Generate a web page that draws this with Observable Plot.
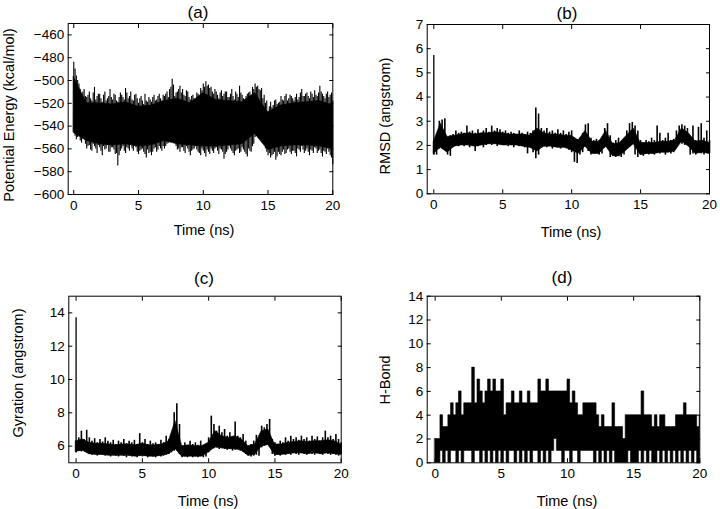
<!DOCTYPE html>
<html><head><meta charset="utf-8">
<script src="https://cdn.jsdelivr.net/npm/d3@7"></script>
<script src="https://cdn.jsdelivr.net/npm/@observablehq/plot@0.6"></script>
<style>
body{margin:0;background:#fff;font-family:"Liberation Sans",Arial,sans-serif;}
#wrap{position:relative;width:720px;height:509px;overflow:hidden;background:#fff;}
.panel{position:absolute;}
.lbl{position:absolute;transform:translate(-50%,-50%);white-space:nowrap;color:#000;line-height:1;}
.title{font-size:17px;}
.axl{font-size:14.5px;}
.ylbl{transform:translate(-50%,-50%) rotate(-90deg);}
</style></head><body><div id="wrap"></div>
<script>
// ---------- data ----------
const time = d3.range(101).map(i => +(i * 0.2).toFixed(1));        // 0.0 .. 20.0 ns
const midTime = d3.range(100).map(i => +(0.1 + i * 0.2).toFixed(1)); // 0.1 .. 19.9 ns
const halfTime = d3.range(41).map(i => i * 0.5);                   // 0 .. 20 ns
const coarseTime = d3.range(21);                                   // 0 .. 20 ns
const xTicks = [0, 5, 10, 15, 20];

// (a) Potential energy (kcal/mol): spike tips every 0.1 ns and the dense body every 1 ns
const energyHigh = [
-484,-496,-503,-512,-508, -515,-510,-518,-506,-514, -512,-519,-510,-516,-508,
-517,-513,-519,-511,-515, -507,-516,-510,-518,-512, -520,-514,-521,-518,-515,
-519,-513,-517,-512,-518, -514,-510,-508,-499,-514, -510,-505,-508,-514,-510,
-517,-513,-518,-512,-507, -503,-501,-504,-506,-512, -510,-516,-509,-512,-510,
-515,-508,-517,-512,-505, -513,-517,-512,-510,-506, -503,-505,-509,-516,-520,
-527,-519,-522,-517,-520, -514,-518,-512,-516,-514, -518,-512,-515,-508,-514,
-511,-516,-512,-509,-514, -505,-512,-516,-510,-513, -518];
const energyLow = [
-545,-552,-548,-555,-552, -560,-557,-562,-558,-564, -559,-566,-561,-557,-563,
-559,-565,-575,-562,-558, -564,-560,-556,-562,-559, -565,-561,-563,-568,-564,
-566,-560,-563,-558,-562, -560,-556,-553,-550,-555, -561,-563,-559,-564,-560,
-566,-561,-558,-563,-566, -562,-567,-563,-560,-564, -559,-565,-561,-569,-563,
-558,-562,-566,-561,-564, -559,-563,-567,-562,-558, -550,-547,-546,-552,-560,
-566,-568,-565,-570,-563, -566,-561,-564,-560,-565, -562,-567,-561,-558,-564,
-560,-566,-562,-559,-564, -561,-567,-563,-560,-566, -574];
const energyHighMid = [
-490,-500,-508,-510,-514, -513,-516,-511,-517,-512, -516,-513,-518,-514,-515,
-512,-518,-515,-513,-517, -511,-514,-517,-513,-516, -516,-518,-512,-519,-517,
-515,-518,-514,-516,-513, -512,-515,-506,-504,-511, -508,-511,-513,-509,-515,
-514,-516,-511,-514,-509, -506,-505,-507,-510,-508, -513,-511,-514,-510,-515,
-512,-514,-510,-515,-511, -516,-514,-511,-515,-508, -506,-508,-507,-513,-518,
-523,-524,-518,-521,-519, -517,-514,-518,-513,-516, -515,-517,-511,-514,-512,
-514,-510,-515,-513,-511, -510,-514,-512,-515,-511];
const energyLowMid = [
-549,-550,-553,-551,-556, -558,-561,-556,-560,-557, -562,-558,-560,-563,-559,
-561,-564,-566,-560,-562, -559,-562,-560,-558,-563, -562,-560,-565,-561,-563,
-563,-559,-561,-560,-558, -558,-555,-552,-553,-558, -560,-559,-562,-558,-563,
-562,-560,-561,-564,-560, -564,-561,-565,-562,-560, -562,-560,-563,-565,-561,
-560,-564,-562,-560,-563, -561,-565,-560,-563,-556, -549,-548,-549,-555,-563,
-564,-566,-563,-567,-565, -563,-565,-561,-563,-562, -564,-560,-563,-561,-562,
-563,-561,-564,-560,-562, -564,-562,-565,-563,-568];
const energyBodyHigh = [-497,-520,-520,-521,-519,-523,-522,-518,-516,-520,-511,-517,-518,-519,-511,-528,-522,-520,-519,-518,-522];
const energyBodyLow  = [-546,-553,-556,-557,-556,-558,-557,-553,-556,-557,-558,-558,-557,-556,-547,-561,-558,-557,-557,-558,-560];
const energyTicks = [-600,-580,-560,-540,-520,-500,-480,-460];

// (b) RMSD (angstrom): spike tips every 0.2 ns, dense body every 0.5 ns
const rmsdHigh = [
2.2,2.2,3.0,3.05,3.1, 2.3,2.4,2.45,2.6,2.5, 2.55,2.5,2.8,2.55,2.6,
2.5,2.65,2.5,2.6,2.7, 2.55,2.8,2.6,2.7,2.65, 2.55,2.6,2.5,2.55,2.5,
2.45,2.6,2.5,2.45,2.55, 2.5,2.6,3.55,3.3,2.7, 2.6,2.7,2.55,2.6,2.5,
2.65,2.5,2.6,2.45,2.55, 2.6,2.3,2.25,2.3,2.5, 2.85,2.9,2.3,2.2,2.25,
2.2,2.3,2.7,2.9,2.4, 2.1,2.2,2.3,2.1,2.2, 2.6,2.9,2.95,2.8,2.6,
2.2,2.1,2.2,2.15,2.3, 2.2,2.8,2.5,2.2,2.3, 2.5,2.2,2.25,2.6,2.8,
2.85,2.8,2.7,2.3,2.8, 2.2,2.75,2.9,2.3,2.6, 2.2];
const rmsdLow = [
1.6,1.6,1.85,1.9,1.8, 1.6,1.55,1.9,2.0,1.95, 2.0,1.95,2.0,1.9,2.0,
1.75,1.95,2.0,1.9,2.0, 2.05,2.0,2.05,1.95,2.05, 2.0,2.05,1.95,2.0,1.9,
2.0,1.95,2.0,1.9,1.65, 1.9,1.7,1.45,1.6,1.9, 1.95,1.9,2.0,1.85,1.95,
1.9,1.85,1.95,1.9,1.8, 1.7,1.3,1.25,1.6,1.7, 2.0,1.75,1.6,1.65,1.7,
1.6,1.65,1.9,1.95,1.5, 1.55,1.5,1.55,1.5,1.6, 1.95,2.0,2.05,1.6,1.5,
1.6,1.55,1.65,1.6,1.65, 1.6,1.7,1.65,1.7,1.6, 1.7,1.65,1.7,2.1,2.2,
2.05,2.0,2.15,1.6,1.65, 1.6,1.7,1.65,1.6,1.7, 1.65];
const rmsdBodyHigh = [2.15,2.9,2.35,2.4,2.45,2.5,2.45,2.5,2.5,2.55,2.5,2.45,2.45,2.45,2.4,2.7,2.5,2.45,2.45,2.4,2.4,2.2,2.6,2.15,2.15,2.6,2.05,2.1,2.4,2.7,2.1,2.1,2.1,2.15,2.15,2.2,2.7,2.5,2.15,2.2,2.1];
const rmsdBodyLow  = [1.65,1.9,1.7,1.95,2.0,2.0,1.95,2.0,2.05,2.05,2.0,2.0,2.0,1.95,1.9,1.75,1.95,1.95,1.9,1.9,1.8,1.65,1.95,1.65,1.65,1.95,1.55,1.55,1.8,2.05,1.6,1.65,1.65,1.7,1.7,1.75,2.15,1.95,1.65,1.7,1.65];
const rmsdSpikeTime = [0.0], rmsdSpikeLow = [1.6], rmsdSpikeHigh = [5.72];
const rmsdTicks = [0,1,2,3,4,5,6,7];

// (c) Radius of gyration (angstrom): spike tips every 0.2 ns, dense body every 0.5 ns
const gyrHigh = [
6.3,6.5,6.9,6.4,6.95, 6.5,6.3,6.45,6.2,6.4, 6.25,6.5,6.3,6.2,6.35,
6.1,6.3,6.2,6.4,6.15, 6.3,6.2,6.35,6.1,6.75, 6.2,6.4,6.1,6.3,6.15,
6.2,6.1,6.35,6.2,6.6, 6.4,6.7,8.0,8.55,7.3, 6.0,6.2,6.0,6.3,6.1,
6.2,6.05,6.3,6.0,6.1, 6.5,7.8,7.3,6.9,7.2, 6.8,7.0,6.6,6.8,6.4,
7.45,6.6,6.5,6.7,6.3, 6.0,6.1,6.3,6.65,6.0, 7.2,7.1,7.3,7.6,6.4,
6.2,6.1,6.3,6.2,6.5, 6.3,6.6,6.4,6.5,6.35, 6.6,6.4,6.5,6.3,6.6,
6.4,6.55,6.3,6.5,6.9, 6.5,6.6,6.4,6.7,6.4, 6.2];
const gyrLow = [
5.6,5.7,5.65,5.75,5.7, 5.5,5.45,5.5,5.4,5.5, 5.45,5.4,5.5,5.35,5.45,
5.4,5.35,5.45,5.4,5.3, 5.4,5.35,5.45,5.3,5.4, 5.35,5.4,5.3,5.4,5.35,
5.3,5.4,5.35,5.4,5.45, 5.5,5.6,5.7,5.8,5.5, 5.3,5.35,5.3,5.4,5.3,
5.35,5.3,5.4,5.3,5.35, 5.6,5.9,5.85,5.9,5.8, 5.85,5.8,5.75,5.8,5.7,
5.75,5.8,5.7,5.65,5.5, 5.4,5.35,5.4,5.45,5.4, 5.9,6.0,6.05,5.95,5.5,
5.4,5.45,5.4,5.5,5.45, 5.5,5.45,5.55,5.5,5.45, 5.55,5.5,5.45,5.55,5.5,
5.45,5.55,5.5,5.45,5.55, 5.5,5.45,5.5,5.45,5.4, 5.5];
const gyrBodyHigh = [6.3,6.4,6.2,6.15,6.15,6.1,6.05,6.1,6.1,6.05,6.15,6.05,6.05,6.1,6.3,7.5,6.0,6.05,6.0,6.0,6.2,6.9,6.6,6.5,6.6,6.4,6.0,6.1,6.9,7.0,6.1,6.1,6.2,6.25,6.3,6.25,6.3,6.3,6.35,6.3,6.1];
const gyrBodyLow  = [5.67,5.72,5.52,5.47,5.47,5.42,5.42,5.42,5.42,5.37,5.42,5.37,5.37,5.42,5.52,5.82,5.37,5.37,5.37,5.37,5.62,5.92,5.87,5.82,5.82,5.72,5.42,5.47,5.97,6.07,5.47,5.47,5.52,5.57,5.57,5.52,5.57,5.52,5.57,5.52,5.47];
const gyrSpikeTime = [0.0], gyrSpikeLow = [5.6], gyrSpikeHigh = [13.7];
const gyrTicks = [6,8,10,12,14];

// (d) Number of H-bonds
const hbHigh = [
2,2,4,3,3, 4,5,4,5,6, 4,5,5,5,8, 5,7,6,5,6, 7,6,7,6,6,
7,4,5,5,6, 5,5,6,5,5, 6,5,5,5,7, 6,6,7,6,6, 6,6,6,6,6,
7,5,6,5,4, 4,5,5,5,5, 5,4,3,4,3, 3,3,5,3,3, 3,2,4,4,4,
4,4,4,6,4, 4,4,3,4,3, 4,4,3,3,3, 3,4,4,4,5, 4,4,4,4,3, 4];
const hbLow = [
0,0,1,0,1, 0,1,1,0,1, 0,1,1,1,0, 1,1,0,1,0, 1,0,1,0,1,
0,1,0,1,1, 0,1,0,1,0, 1,0,1,1,0, 1,0,1,0,1, 2,1,1,0,1,
1,0,1,1,0, 1,1,1,1,1, 0,1,0,1,0, 1,0,1,0,0, 0,0,0,1,0,
0,0,1,0,1, 0,1,0,0,1, 0,1,0,1,0, 1,0,1,0,1, 0,1,0,1,0, 1];
const hbTicks = [0,2,4,6,8,10,12,14];

// ---------- drawing ----------
const wrap = document.getElementById("wrap");
const rows = (ts, hi, lo) => ts.map((t, i) => ({t, hi: hi[i], lo: lo[i]}));
const blank = () => "";

function panel({left, top, width, height, mL, mR, mT, mB, xDomain, yDomain, yTicks, marks}) {
  const chart = Plot.plot({
    width, height, marginLeft: mL, marginRight: mR, marginTop: mT, marginBottom: mB,
    style: {fontFamily: "'Liberation Sans', Arial, sans-serif", fontSize: "13.5px", color: "black", background: "white", overflow: "visible"},
    x: {domain: xDomain},
    y: {domain: yDomain},
    marks: [
      ...marks,
      Plot.frame({stroke: "black", strokeWidth: 1}),
      Plot.axisX(xTicks, {tickSize: 0, tickPadding: 6, label: null}),
      Plot.axisX(xTicks, {tickSize: -4, tickPadding: 0, tickFormat: blank, label: null}),
      Plot.axisX(xTicks, {anchor: "top", tickSize: -4, tickPadding: 0, tickFormat: blank, label: null}),
      Plot.axisY(yTicks, {tickSize: 0, tickPadding: 4, label: null}),
      Plot.axisY(yTicks, {tickSize: -4, tickPadding: 0, tickFormat: blank, label: null}),
      Plot.axisY(yTicks, {anchor: "right", tickSize: -4, tickPadding: 0, tickFormat: blank, label: null})
    ]
  });
  chart.classList.add("panel");
  chart.style.left = left + "px";
  chart.style.top = top + "px";
  wrap.appendChild(chart);
}

function label(text, x, y, cls) {
  const d = document.createElement("div");
  d.className = "lbl " + cls;
  d.textContent = text;
  d.style.left = x + "px";
  d.style.top = y + "px";
  wrap.appendChild(d);
}

const band = (data, curve) => Plot.areaY(data, {x: "t", y1: "lo", y2: "hi", fill: "black", stroke: "black", strokeWidth: 0.6, curve});
const tips = (data, w) => Plot.ruleX(data, {x: "t", y1: "lo", y2: "hi", stroke: "black", strokeWidth: w});

panel({left: 0, top: 0, width: 360, height: 250, mL: 67.7, mR: 27.7, mT: 23, mB: 56,
  xDomain: [-0.43, 20], yDomain: [-600, -450], yTicks: energyTicks,
  marks: [band(rows(coarseTime, energyBodyHigh, energyBodyLow), "linear"),
          tips(rows(midTime, energyHighMid, energyLowMid), 1.1),
          tips(rows(time, energyHigh, energyLow), 1.1)]});

panel({left: 360, top: 0, width: 360, height: 250, mL: 66.7, mR: 11, mT: 24, mB: 56.7,
  xDomain: [-0.48, 20], yDomain: [0, 7], yTicks: rmsdTicks,
  marks: [band(rows(halfTime, rmsdBodyHigh, rmsdBodyLow), "linear"),
          tips(rows(time, rmsdHigh, rmsdLow), 1.6),
          tips(rows(rmsdSpikeTime, rmsdSpikeHigh, rmsdSpikeLow), 1.3)]});

panel({left: 0, top: 255, width: 360, height: 254, mL: 68.3, mR: 19.3, mT: 40.7, mB: 46.7,
  xDomain: [-0.55, 20], yDomain: [5, 15], yTicks: gyrTicks,
  marks: [band(rows(halfTime, gyrBodyHigh, gyrBodyLow), "linear"),
          tips(rows(time, gyrHigh, gyrLow), 1.6),
          tips(rows(gyrSpikeTime, gyrSpikeHigh, gyrSpikeLow), 1.3)]});

panel({left: 360, top: 255, width: 360, height: 254, mL: 66.7, mR: 20.7, mT: 40.7, mB: 46.7,
  xDomain: [-0.6, 20], yDomain: [0, 14], yTicks: hbTicks,
  marks: [band(rows(time, hbHigh, hbLow), "step-after")]});

label("(a)", 198, 12, "title");
label("(b)", 567, 12.5, "title");
label("(c)", 204, 277.5, "title");
label("(d)", 562, 277, "title");
label("Time (ns)", 204, 230, "axl");
label("Time (ns)", 571, 231.5, "axl");
label("Time (ns)", 208, 501, "axl");
label("Time (ns)", 567, 501, "axl");
label("Potential Energy (kcal/mol)", 9, 115, "axl ylbl");
label("RMSD (angstrom)", 385, 116, "axl ylbl");
label("Gyration (angstrom)", 17.5, 372.5, "axl ylbl");
label("H-Bond", 385, 380, "axl ylbl");
</script></body></html>
